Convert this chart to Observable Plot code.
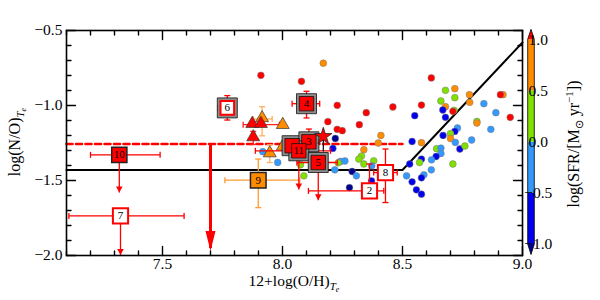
<!DOCTYPE html>
<html><head><meta charset="utf-8">
<script src="https://cdn.jsdelivr.net/npm/d3@7"></script>
<script src="https://cdn.jsdelivr.net/npm/@observablehq/plot@0.6"></script>
<style>body{margin:0;background:#fff}#chart{width:600px;height:300px}
#chart svg, #chart svg text{font-family:'Liberation Serif','Times New Roman',serif !important}</style>
</head><body><div id="chart"></div>
<script>
// ---------- data ----------
const xDomain = [7.1, 9.0];
const yDomain = [-2.0, -0.5];
const xMajor = [7.5, 8.0, 8.5, 9.0];
const yMajor = [-2.0, -1.5, -1.0, -0.5];
const cbTicks = [-1.0, -0.5, 0.0, 0.5, 1.0];
const sfrThresholds = [-1, -0.5, 0, 0.5, 1];
const sfrColors = ["#000090", "#0000ee", "#3399ff", "#80e000", "#ff8c00", "#ff0000"];

// fitted relation (solid) and mean of low-metallicity sample (dashed)
const fitX = [7.1, 8.5, 9.0];
const fitY = [-1.43, -1.43, -0.58];
const dashX = [7.1, 8.5];
const dashY = [-1.257, -1.257];
const bigArrowX = [7.7];
const bigArrowTop = [-1.257];
const bigArrowTip = [-1.95];

// comparison sample, coloured by log SFR
const circX = [8.170,7.910,8.079,8.228,8.349,8.460,8.189,8.228,8.249,8.320,8.220,8.410,8.399,8.210,8.339,
  8.551,8.540,8.329,8.318,8.339,8.380,8.372,8.242,8.232,8.260,8.290,8.308,8.371,8.279,8.218,
  7.918,7.980,8.075,8.089,
  8.620,8.679,8.718,8.718,8.779,8.780,8.660,8.679,8.579,8.668,8.715,8.710,8.679,8.839,8.919,8.908,8.889,8.949,
  8.810,8.810,8.729,8.868,8.669,8.718,8.700,8.700,8.788,8.720,8.579,8.739,8.760,8.642,8.660,8.660,8.640,8.579,8.621,
  8.530,8.571,8.710,8.517,8.540,8.589,8.579,8.620,8.558,8.579];
const circY = [-0.718,-0.799,-0.839,-0.999,-1.048,-1.010,-1.108,-1.159,-1.168,-1.128,-1.220,-1.200,-1.250,-1.286,-1.295,
  -1.068,-1.240,-1.337,-1.357,-1.390,-1.369,-1.402,-1.373,-1.382,-1.370,-1.440,-1.469,-1.502,-1.547,-1.429,
  -1.308,-1.380,-1.395,-1.469,
  -0.816,-0.899,-0.888,-0.948,-0.928,-0.979,-0.970,-1.008,-0.997,-1.030,-1.032,-1.039,-1.079,-0.988,-0.928,-0.928,-1.048,-1.079,
  -1.106,-1.117,-1.150,-1.159,-1.200,-1.173,-1.188,-1.220,-1.230,-1.246,-1.248,-1.290,-1.270,-1.288,-1.284,-1.320,-1.340,-1.357,-1.362,
  -1.390,-1.380,-1.390,-1.469,-1.509,-1.462,-1.482,-1.429,-1.562,-1.591];
const circSFR = [0.75,1.2,1.2,1.2,1.2,1.2,1.2,1.2,1.2,1.2,-1.2,0.75,0.75,-0.75,0.75,
  -0.75,-0.75,0.25,0.25,0.25,0.25,-0.25,-0.25,0.25,-0.25,-1.2,-0.25,-0.75,-1.2,-0.25,
  -0.25,-0.25,0.25,0.25,
  1.2,0.25,0.75,0.25,0.75,0.75,0.25,0.75,1.2,-0.75,0.25,1.2,-0.75,-0.25,0.75,1.2,-0.25,1.2,
  0.25,0.75,-0.25,-0.25,-0.75,-0.75,0.25,0.75,-0.25,-0.25,0.75,-0.75,0.25,0.25,-0.25,-0.25,-0.75,-0.75,-0.25,
  -0.75,0.25,0.25,-0.25,-0.75,-0.25,-0.75,-0.25,-0.75,-0.75];

// triangles
const triX = [7.915, 7.874, 7.910, 8.001, 7.878, 8.001, 7.947];
const triY = [-1.090, -1.128, -1.128, -1.135, -1.217, -1.280, -1.324];
const triSFR = [0.75, 1.2, 1.2, 0.75, 1.2, 0.75, 0.75];
const triXlo = [7.878, null, 7.836, null, null, null, null];
const triXhi = [7.957, null, 7.987, null, null, null, null];
const triYlo = [-1.202, null, null, null, -1.26, null, -1.38];
const triYhi = [-1.008, null, null, null, -1.173, null, -1.262];

// star
const starX = [8.170];
const starY = [-1.206];

// numbered squares
const sqLabel = ["10", "7", "6", "4", "1", "3", "11", "5", "9", "2", "8"];
const sqX = [7.320, 7.325, 7.770, 8.100, 8.040, 8.110, 8.068, 8.149, 7.899, 8.3625, 8.429];
const sqY = [-1.329, -1.736, -1.016, -0.988, -1.268, -1.242, -1.302, -1.380, -1.498, -1.569, -1.447];
const sqType = ["red", "open", "opengray", "redgray", "redgray", "redgray", "redgray", "redgray", "orange", "open", "open"];
const sqXlo = [7.200, 7.110, 7.730, 8.040, null, 8.050, 7.887, 8.060, 7.760, 8.108, 8.380];
const sqXhi = [7.490, 7.590, 7.808, 8.155, null, 8.150, 8.200, 8.228, 8.072, 8.422, 8.478];
const sqYlo = [null, null, -1.097, -1.083, null, -1.330, null, null, -1.681, null, -1.647];
const sqYhi = [null, null, -0.934, -0.905, null, -1.157, null, null, -1.357, -1.390, -1.290];
const sqLimit = [-1.580, -1.997, null, null, null, null, -1.560, -1.631, null, null, null];

// ---------- helpers ----------
const font = "'Liberation Serif', 'Times New Roman', serif";
const fmt = d3.format(".1f");
const xMinor = d3.range(71, 91).map(v => v / 10).filter(v => !xMajor.some(m => Math.abs(m - v) < 1e-6));
const yMinor = d3.range(-20, -4).map(v => v / 10).filter(v => !yMajor.some(m => Math.abs(m - v) < 1e-6));
const lineShape = {draw(ctx, l) { ctx.moveTo(0, 0); ctx.lineTo(0, -l); }};
const half = size => Math.sqrt(size / Math.PI);
const hCap = {draw(ctx, s) { const r = half(s); ctx.moveTo(-r, 0); ctx.lineTo(r, 0); }};
const vCap = {draw(ctx, s) { const r = half(s); ctx.moveTo(0, -r); ctx.lineTo(0, r); }};
const sqSym = {draw(ctx, s) { const h = half(s); ctx.rect(-h, -h, 2 * h, 2 * h); }};
const headSym = k => ({draw(ctx, s) { const w = half(s); ctx.moveTo(0, 0); ctx.lineTo(-w, -w * k); ctx.lineTo(w, -w * k); ctx.closePath(); }});

const circles = circX.map((x, i) => ({x, y: circY[i], sfr: circSFR[i]}));
const tris = triX.map((x, i) => ({x, y: triY[i], sfr: triSFR[i], xlo: triXlo[i], xhi: triXhi[i], ylo: triYlo[i], yhi: triYhi[i]}));
const squares = sqLabel.map((l, i) => ({label: l, x: sqX[i], y: sqY[i], type: sqType[i], xlo: sqXlo[i], xhi: sqXhi[i], ylo: sqYlo[i], yhi: sqYhi[i], lim: sqLimit[i], col: sqType[i] === "orange" ? "#ff9a30" : "#ff0000"}));
const fit = fitX.map((x, i) => ({x, y: fitY[i]}));
const dash = dashX.map((x, i) => ({x, y: dashY[i]}));
const big = bigArrowX.map((x, i) => ({x, y1: bigArrowTop[i], y2: bigArrowTip[i]}));

const triXe = tris.filter(d => d.xlo != null), triYe = tris.filter(d => d.ylo != null);
const sqXe = squares.filter(d => d.xlo != null), sqYe = squares.filter(d => d.yhi != null);
const sqLim = squares.filter(d => d.lim != null);
const sqYeLo = sqYe.filter(d => d.ylo != null);
const colorOf = v => sfrColors[d3.bisect(sfrThresholds, v)];
const triCol = d => d.sfr > 1 ? "#ff2020" : "#ffb060";

const tickV = (data, opts) => Plot.vector(data, {anchor: "start", shape: lineShape, stroke: "black", strokeWidth: 1.4, ...opts});

const marks = [
  // fit lines
  Plot.line(fit, {x: "x", y: "y", stroke: "black", strokeWidth: 2}),
  Plot.line(dash, {x: "x", y: "y", stroke: "#ff0000", strokeWidth: 2.6, strokeDasharray: "6,3.5"}),
  // big upper-limit arrow
  Plot.link(big, {x1: "x", x2: "x", y1: "y1", y2: "y2", stroke: "#ff0000", strokeWidth: 3}),
  Plot.dot(big, {x: "x", y: "y2", r: 5, symbol: headSym(4), fill: "#ff0000", stroke: "none", dy: 3}),
  // comparison sample
  Plot.dot(circles, {x: "x", y: "y", r: 3.4, fill: d => colorOf(d.sfr), stroke: "#7a7a7a", strokeWidth: 0.5}),
  // triangle error bars
  Plot.link(triXe, {x1: "xlo", x2: "xhi", y1: "y", y2: "y", stroke: triCol, strokeWidth: 1.3}),
  Plot.dot(triXe.flatMap(d => [{x: d.xlo, y: d.y, sfr: d.sfr}, {x: d.xhi, y: d.y, sfr: d.sfr}]), {x: "x", y: "y", r: 3, symbol: vCap, stroke: triCol, strokeWidth: 1.3}),
  Plot.link(triYe, {x1: "x", x2: "x", y1: "ylo", y2: "yhi", stroke: triCol, strokeWidth: 1.3}),
  Plot.dot(triYe.flatMap(d => [{x: d.x, y: d.ylo, sfr: d.sfr}, {x: d.x, y: d.yhi, sfr: d.sfr}]), {x: "x", y: "y", r: 3, symbol: hCap, stroke: triCol, strokeWidth: 1.3}),
  Plot.dot(tris, {x: "x", y: "y", r: 4.8, symbol: "triangle", fill: d => colorOf(d.sfr), stroke: "#333", strokeWidth: 0.7, dy: -1}),
  // square error bars
  Plot.link(sqXe, {x1: "xlo", x2: "xhi", y1: "y", y2: "y", stroke: "col", strokeWidth: 1.3}),
  Plot.dot(sqXe.flatMap(d => [{x: d.xlo, y: d.y, col: d.col}, {x: d.xhi, y: d.y, col: d.col}]), {x: "x", y: "y", r: 3, symbol: vCap, stroke: "col", strokeWidth: 1.3}),
  Plot.link(sqYe, {x1: "x", x2: "x", y1: d => d.ylo ?? d.y, y2: "yhi", stroke: "col", strokeWidth: 1.3}),
  Plot.dot(sqYe.map(d => ({x: d.x, y: d.yhi, col: d.col})).concat(sqYeLo.map(d => ({x: d.x, y: d.ylo, col: d.col}))), {x: "x", y: "y", r: 3, symbol: hCap, stroke: "col", strokeWidth: 1.3}),
  Plot.link(sqLim, {x1: "x", x2: "x", y1: "y", y2: "lim", stroke: "#ff0000", strokeWidth: 1.3}),
  Plot.dot(sqLim, {x: "x", y: "lim", r: 3.3, symbol: headSym(1.8), fill: "#ff0000", stroke: "none"}),
  // squares
  Plot.dot(squares.filter(d => d.type.endsWith("gray")), {x: "x", y: "y", r: 10, symbol: sqSym, fill: "#8c8c8c", stroke: "#111", strokeWidth: 0.8}),
  Plot.dot(squares.filter(d => d.type === "redgray"), {x: "x", y: "y", r: 7.2, symbol: sqSym, fill: "#ff0000", stroke: "#111", strokeWidth: 0.8}),
  Plot.dot(squares.filter(d => d.type === "opengray"), {x: "x", y: "y", r: 6.8, symbol: sqSym, fill: "white", stroke: "#ff0000", strokeWidth: 2}),
  Plot.dot(squares.filter(d => d.type === "open"), {x: "x", y: "y", r: 7.6, symbol: sqSym, fill: "white", stroke: "#ff0000", strokeWidth: 2}),
  Plot.dot(squares.filter(d => d.type === "red"), {x: "x", y: "y", r: 7.6, symbol: sqSym, fill: "#ff0000", stroke: "#222", strokeWidth: 1.5}),
  Plot.dot(squares.filter(d => d.type === "orange"), {x: "x", y: "y", r: 7.8, symbol: sqSym, fill: "#ff8c00", stroke: "#222", strokeWidth: 1.5}),
  Plot.text(squares.filter(d => d.label !== "1"), {x: "x", y: "y", text: "label", fontSize: 11, fill: "black", fontFamily: font}),
  // star
  Plot.link(starX.map((x, i) => ({x, y: starY[i]})), {x1: "x", x2: "x", y1: "y", y2: d => d.y - 0.1, stroke: "black", strokeWidth: 1.2}),
  Plot.dot(starX.map((x, i) => ({x, y: starY[i]})), {x: "x", y: "y", r: 5.4, symbol: "star", fill: "#ff0000", stroke: "#222", strokeWidth: 0.8}),
  // frame and ticks
  Plot.frame({stroke: "black", strokeWidth: 1.6}),
  tickV(xMinor, {x: d => d, y: yDomain[0], length: 4.5, rotate: 0}),
  tickV(xMajor, {x: d => d, y: yDomain[0], length: 9, rotate: 0}),
  tickV(xMinor, {x: d => d, y: yDomain[1], length: 4.5, rotate: 180}),
  tickV(xMajor, {x: d => d, y: yDomain[1], length: 9, rotate: 180}),
  tickV(yMinor, {y: d => d, x: xDomain[0], length: 4.5, rotate: 90}),
  tickV(yMajor, {y: d => d, x: xDomain[0], length: 9, rotate: 90}),
  tickV(yMinor, {y: d => d, x: xDomain[1], length: 4.5, rotate: 270}),
  tickV(yMajor, {y: d => d, x: xDomain[1], length: 9, rotate: 270}),
  Plot.axisX(xMajor, {anchor: "bottom", tickSize: 0, tickPadding: 2, tickFormat: fmt, label: null, fontSize: 15.5, fontFamily: font}),
  Plot.axisY(yMajor, {anchor: "left", tickSize: 0, tickPadding: 4, tickFormat: fmt, label: null, fontSize: 15.5, fontFamily: font})
];

const svg = Plot.plot({
  width: 600, height: 300,
  marginLeft: 66, marginRight: 78, marginTop: 30, marginBottom: 45,
  x: {domain: xDomain, label: null},
  y: {domain: yDomain, label: null},
  style: "font-family: 'Liberation Serif', 'Times New Roman', serif; font-size: 16px; background: white; color: black;",
  marks
});

// ---------- colorbar ----------
const sel = d3.select(svg);
const cy = d3.scaleLinear([-1, 1], [244, 39.3]);
const cx0 = 527.7, cx1 = 534.3, cxm = (cx0 + cx1) / 2;
const cb = sel.append("g");
const bands = sfrThresholds.slice(0, -1).map((t, i) => ({lo: t, hi: sfrThresholds[i + 1], c: sfrColors[i + 1]}));
cb.selectAll("rect").data(bands).join("rect")
  .attr("x", cx0).attr("width", cx1 - cx0)
  .attr("y", d => cy(d.hi)).attr("height", d => cy(d.lo) - cy(d.hi)).attr("fill", d => d.c);
cb.append("path").attr("d", `M${cx0},${cy(1)}L${cxm},${cy(1) - 10}L${cx1},${cy(1)}Z`).attr("fill", sfrColors[5]);
cb.append("path").attr("d", `M${cx0},${cy(-1)}L${cxm},${cy(-1) + 10.5}L${cx1},${cy(-1)}Z`).attr("fill", sfrColors[0]);
cb.append("path").attr("d", `M${cx0},${cy(1)}L${cxm},${cy(1) - 10}L${cx1},${cy(1)}L${cx1},${cy(-1)}L${cxm},${cy(-1) + 10.5}L${cx0},${cy(-1)}Z`)
  .attr("fill", "none").attr("stroke", "black").attr("stroke-width", 0.8);
cb.selectAll("text").data(cbTicks).join("text")
  .attr("x", cx1 + 4).attr("y", d => cy(d)).attr("dy", "0.35em")
  .attr("font-family", font).attr("font-size", 15.5).text(d => fmt(d));

// ---------- axis titles ----------
const xl = sel.append("text").attr("x", 294).attr("y", 285.5).attr("text-anchor", "middle")
  .attr("font-family", font).attr("font-size", 15.5);
xl.append("tspan").text("12+log(O/H)");
xl.append("tspan").attr("font-style", "italic").attr("font-size", 11).attr("dy", 4).text("T");
xl.append("tspan").attr("font-style", "italic").attr("font-size", 8).attr("dy", 2).text("e");

const yl = sel.append("text").attr("transform", "translate(20,142) rotate(-90)").attr("text-anchor", "middle")
  .attr("font-family", font).attr("font-size", 16);
yl.append("tspan").text("log(N/O)");
yl.append("tspan").attr("font-style", "italic").attr("font-size", 11).attr("dy", 4).text("T");
yl.append("tspan").attr("font-style", "italic").attr("font-size", 8).attr("dy", 2).text("e");

const cl = sel.append("text").attr("transform", "translate(579,144) rotate(-90)").attr("text-anchor", "middle")
  .attr("font-family", font).attr("font-size", 16);
cl.append("tspan").text("log(SFR/[M");
cl.append("tspan").attr("font-size", 11).attr("dy", 4).text("⊙");
cl.append("tspan").attr("dy", -4).text(" yr");
cl.append("tspan").attr("font-size", 11).attr("dy", -6).text("−1");
cl.append("tspan").attr("dy", 6).text("])");

document.getElementById("chart").appendChild(svg);
</script>
</body></html>
